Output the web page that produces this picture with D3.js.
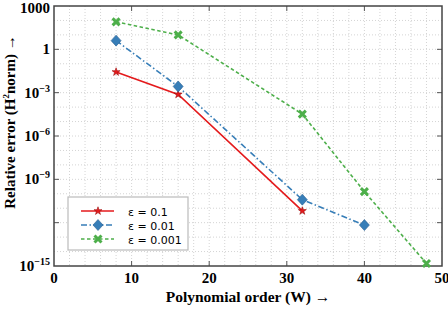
<!DOCTYPE html>
<html>
<head>
<meta charset="utf-8">
<script src="https://cdn.jsdelivr.net/npm/d3@7"></script>
<style>
  body { margin: 0; background: #fff; }
  svg { display: block; }
</style>
</head>
<body>
<script>
const width = 448
const height = 320
const margin = { top: 6, right: 6, bottom: 54, left: 54 }

// data
const orders = [8, 16, 32, 40, 48]
const epsLabels = ['ε = 0.1', 'ε = 0.01', 'ε = 0.001']
const errEps01 = [2.7e-2, 7.6e-4, 6.5e-12]
const errEps001 = [4.0, 2.7e-3, 3.9e-11, 6.8e-13]
const errEps0001 = [80, 10, 3.3e-5, 1.4e-10, 1.5e-15]
const yTicks = [1e3, 1, 1e-3, 1e-6, 1e-9, 1e-12, 1e-15]
const yTickLabels = ['1000', '1', '−3', '−6', '−9', '', '−15']
const xTicks = [0, 10, 20, 30, 40, 50]

const series = [
  { name: epsLabels[0], values: errEps01, color: '#e41a1c', dash: null, marker: 'star' },
  { name: epsLabels[1], values: errEps001, color: '#377eb8', dash: '6,2.5,1.5,2.5', marker: 'diamond' },
  { name: epsLabels[2], values: errEps0001, color: '#4daf4a', dash: '3.5,2.5', marker: 'cross' }
]

const x = d3.scaleLinear().domain([0, 50]).range([margin.left, width - margin.right])
const y = d3.scaleLog().domain([1e-15, 1e3]).range([height - margin.bottom, margin.top])

const svg = d3.select('body').append('svg')
  .attr('width', width)
  .attr('height', height)

// dotted grid
const grid = svg.append('g').attr('stroke', '#d4d4d4').attr('stroke-width', 1).attr('stroke-dasharray', '1,2')
grid.selectAll('line.v')
  .data(d3.range(2, 50, 2))
  .enter().append('line')
  .attr('x1', d => x(d)).attr('x2', d => x(d))
  .attr('y1', y(1e3)).attr('y2', y(1e-15))
grid.selectAll('line.h')
  .data(d3.range(-14, 3).map(e => Math.pow(10, e)))
  .enter().append('line')
  .attr('x1', x(0)).attr('x2', x(50))
  .attr('y1', d => y(d)).attr('y2', d => y(d))

// inward ticks on all four sides
const ticks = svg.append('g').attr('stroke', '#555').attr('stroke-width', 1)
xTicks.slice(1, -1).forEach(t => {
  ticks.append('line').attr('x1', x(t)).attr('x2', x(t)).attr('y1', y(1e-15)).attr('y2', y(1e-15) - 5)
  ticks.append('line').attr('x1', x(t)).attr('x2', x(t)).attr('y1', y(1e3)).attr('y2', y(1e3) + 5)
})
yTicks.slice(1, -1).forEach(t => {
  ticks.append('line').attr('x1', x(0)).attr('x2', x(0) + 5).attr('y1', y(t)).attr('y2', y(t))
  ticks.append('line').attr('x1', x(50)).attr('x2', x(50) - 5).attr('y1', y(t)).attr('y2', y(t))
})

// frame
svg.append('rect')
  .attr('x', x(0)).attr('y', y(1e3))
  .attr('width', x(50) - x(0)).attr('height', y(1e-15) - y(1e3))
  .attr('fill', 'none').attr('stroke', '#444').attr('stroke-width', 1.5)

const serif = '"Liberation Serif", "DejaVu Serif", serif'

// x tick labels
svg.append('g').selectAll('text')
  .data(xTicks)
  .enter().append('text')
  .attr('x', d => x(d))
  .attr('y', y(1e-15) + 17)
  .attr('text-anchor', 'middle')
  .style('font-family', serif).style('font-weight', 'bold').style('font-size', '15px')
  .text(d => d)

// y tick labels
const yl = svg.append('g').selectAll('text')
  .data(yTicks)
  .enter().append('text')
  .attr('x', x(0) - 4)
  .attr('y', d => y(d) === y(1e3) ? y(d) + 7 : y(d) + 5)
  .attr('text-anchor', 'end')
  .style('font-family', serif).style('font-weight', 'bold').style('font-size', '15px')
yl.each(function (d, i) {
  const t = d3.select(this)
  const lab = yTickLabels[i]
  if (lab === '') return
  if (d === 1e3 || d === 1) { t.text(lab); return }
  t.append('tspan').text('10')
  t.append('tspan').attr('dy', -6).style('font-size', '10px').text(lab)
})

// axis titles
svg.append('text')
  .attr('x', (x(0) + x(50)) / 2)
  .attr('y', 302)
  .attr('text-anchor', 'middle')
  .style('font-family', serif).style('font-weight', 'bold').style('font-size', '15.5px')
  .text('Polynomial order (W) →')

const ylab = svg.append('text')
  .attr('transform', 'translate(15,122) rotate(-90)')
  .attr('text-anchor', 'middle')
  .style('font-family', serif).style('font-weight', 'bold').style('font-size', '15px')
ylab.append('tspan').text('Relative error (H')
ylab.append('tspan').attr('dy', -6).style('font-size', '9px').text('2')
ylab.append('tspan').attr('dy', 6).text('norm) →')

// markers
function marker (g, type, color) {
  if (type === 'star') {
    g.append('path').attr('d', d3.symbol(d3.symbolStar, 20)())
      .attr('fill', color).attr('stroke', '#a01010').attr('stroke-width', 0.6)
  } else if (type === 'diamond') {
    g.append('path').attr('d', 'M0,-5.5L5,0L0,5.5L-5,0Z')
      .attr('fill', color).attr('stroke', '#2a6090').attr('stroke-width', 0.6)
  } else {
    g.append('path').attr('d', 'M-3.5,-3.5L3.5,3.5M-3.5,3.5L3.5,-3.5')
      .attr('stroke', color).attr('stroke-width', 3)
  }
}

const line = d3.line()
  .x((d, i) => x(orders[i]))
  .y(d => y(d))

series.forEach(s => {
  svg.append('path')
    .datum(s.values)
    .attr('d', line)
    .attr('fill', 'none')
    .attr('stroke', s.color)
    .attr('stroke-width', 1.6)
    .attr('stroke-dasharray', s.dash)
  s.values.forEach((v, i) => {
    const g = svg.append('g').attr('transform', 'translate(' + x(orders[i]) + ',' + y(v) + ')')
    marker(g, s.marker, s.color)
  })
})

// legend
const leg = svg.append('g').attr('transform', 'translate(68,197)')
leg.append('rect')
  .attr('width', 120).attr('height', 53)
  .attr('fill', '#fff').attr('stroke', '#bbb').attr('stroke-width', 1.2)
series.forEach((s, i) => {
  const row = leg.append('g').attr('transform', 'translate(0,' + (14 + i * 14) + ')')
  row.append('line')
    .attr('x1', 13).attr('x2', 46)
    .attr('stroke', s.color).attr('stroke-width', 1.6)
    .attr('stroke-dasharray', s.dash)
  const m = row.append('g').attr('transform', 'translate(30,0)')
  marker(m, s.marker, s.color)
  row.append('text')
    .attr('x', 60).attr('y', 4.5)
    .style('font-family', '"DejaVu Sans", sans-serif').style('font-size', '11px')
    .text(s.name)
})
</script>
</body>
</html>
